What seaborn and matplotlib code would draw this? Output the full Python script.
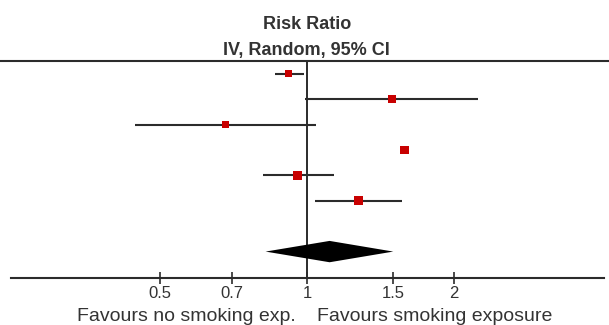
import numpy as np
import pandas as pd
import matplotlib
matplotlib.use("Agg")
import matplotlib.pyplot as plt
from matplotlib.lines import Line2D
from matplotlib.ticker import FixedLocator, FixedFormatter, NullLocator
import seaborn as sns

# ---- data ----
rows = [1, 2, 3, 4, 5, 6]
estimate = [0.917, 1.492, 0.680, 1.585, 0.957, 1.273]
lower = [0.859, 0.992, 0.444, np.nan, 0.811, 1.037]
upper = [0.987, 2.240, 1.043, np.nan, 1.133, 1.567]
pooled_row = 8
pooled = [0.822, 1.112, 1.502]  # lower, estimate, upper
tick_values = [0.5, 0.7, 1, 1.5, 2]
tick_labels = ["0.5", "0.7", "1", "1.5", "2"]
header_lines = ["Risk Ratio", "IV, Random, 95% CI"]
left_label = "Favours no smoking exp."
right_label = "Favours smoking exposure"

# ---- style ----
marker_side_pt = [5.3, 6.2, 4.8, 6.2, 6.2, 6.2]
RED = "#C80000"
DARK = "#2b2b2b"
TXT = "#333333"

sns.set_theme(style="white")
plt.rcParams["font.family"] = ["Liberation Sans", "DejaVu Sans"]

fig = plt.figure(figsize=(6.09, 3.25), dpi=100)
ax = fig.add_axes([10.9 / 609, (325 - 277.5) / 325, 593 / 609, (277.5 - 61) / 325])

df = pd.DataFrame({"row": rows, "est": estimate, "lo": lower, "hi": upper,
                   "side": marker_side_pt})

ax.set_xscale("log")
ax.set_xlim(0.247, 4.06)
ax.set_ylim(9.02, 0.5)

# vertical line of no effect
ax.axvline(1, color=DARK, lw=1.4, zorder=1)

# CI lines
ci = df.dropna(subset=["lo", "hi"])
ax.hlines(ci["row"], ci["lo"], ci["hi"], color=DARK, lw=1.5, zorder=2)

# squares
sns.scatterplot(data=df, x="est", y="row", marker="s", s=df["side"] ** 2,
                color=RED, linewidth=0, ax=ax, zorder=3, legend=False)

# pooled diamond
dh = 0.42
ax.fill([pooled[0], pooled[1], pooled[2], pooled[1]],
        [pooled_row, pooled_row - dh, pooled_row, pooled_row + dh],
        color="black", lw=0, zorder=3)

# axes styling
for s in ["top", "left", "right"]:
    ax.spines[s].set_visible(False)
ax.spines["bottom"].set_color(DARK)
ax.spines["bottom"].set_linewidth(1.5)
ax.xaxis.set_major_locator(FixedLocator(tick_values))
ax.xaxis.set_major_formatter(FixedFormatter(tick_labels))
ax.xaxis.set_minor_locator(NullLocator())
ax.tick_params(axis="x", direction="inout", length=8.5, width=1.2, color=DARK,
               labelsize=12, labelcolor=TXT, pad=2.2, bottom=True)
ax.set_yticks([])
ax.set_xlabel("")
ax.set_ylabel("")

# top horizontal line spanning figure
fig.add_artist(Line2D([0, 1], [(325 - 61) / 325] * 2, color=DARK, lw=1.5,
                      transform=fig.transFigure))

# header
xc = 306.8 / 609
fig.text(xc, (325 - 29.3) / 325, header_lines[0], ha="center", va="baseline",
         fontsize=13, fontweight="bold", color=TXT)
fig.text(xc, (325 - 55) / 325, header_lines[1], ha="center", va="baseline",
         fontsize=13, fontweight="bold", color=TXT)

# bottom labels
fig.text(296 / 609, (325 - 321) / 325, left_label, ha="right", va="baseline",
         fontsize=14, color=TXT)
fig.text(317 / 609, (325 - 321) / 325, right_label, ha="left", va="baseline",
         fontsize=14, color=TXT)

fig.savefig("out.png", dpi=100)
